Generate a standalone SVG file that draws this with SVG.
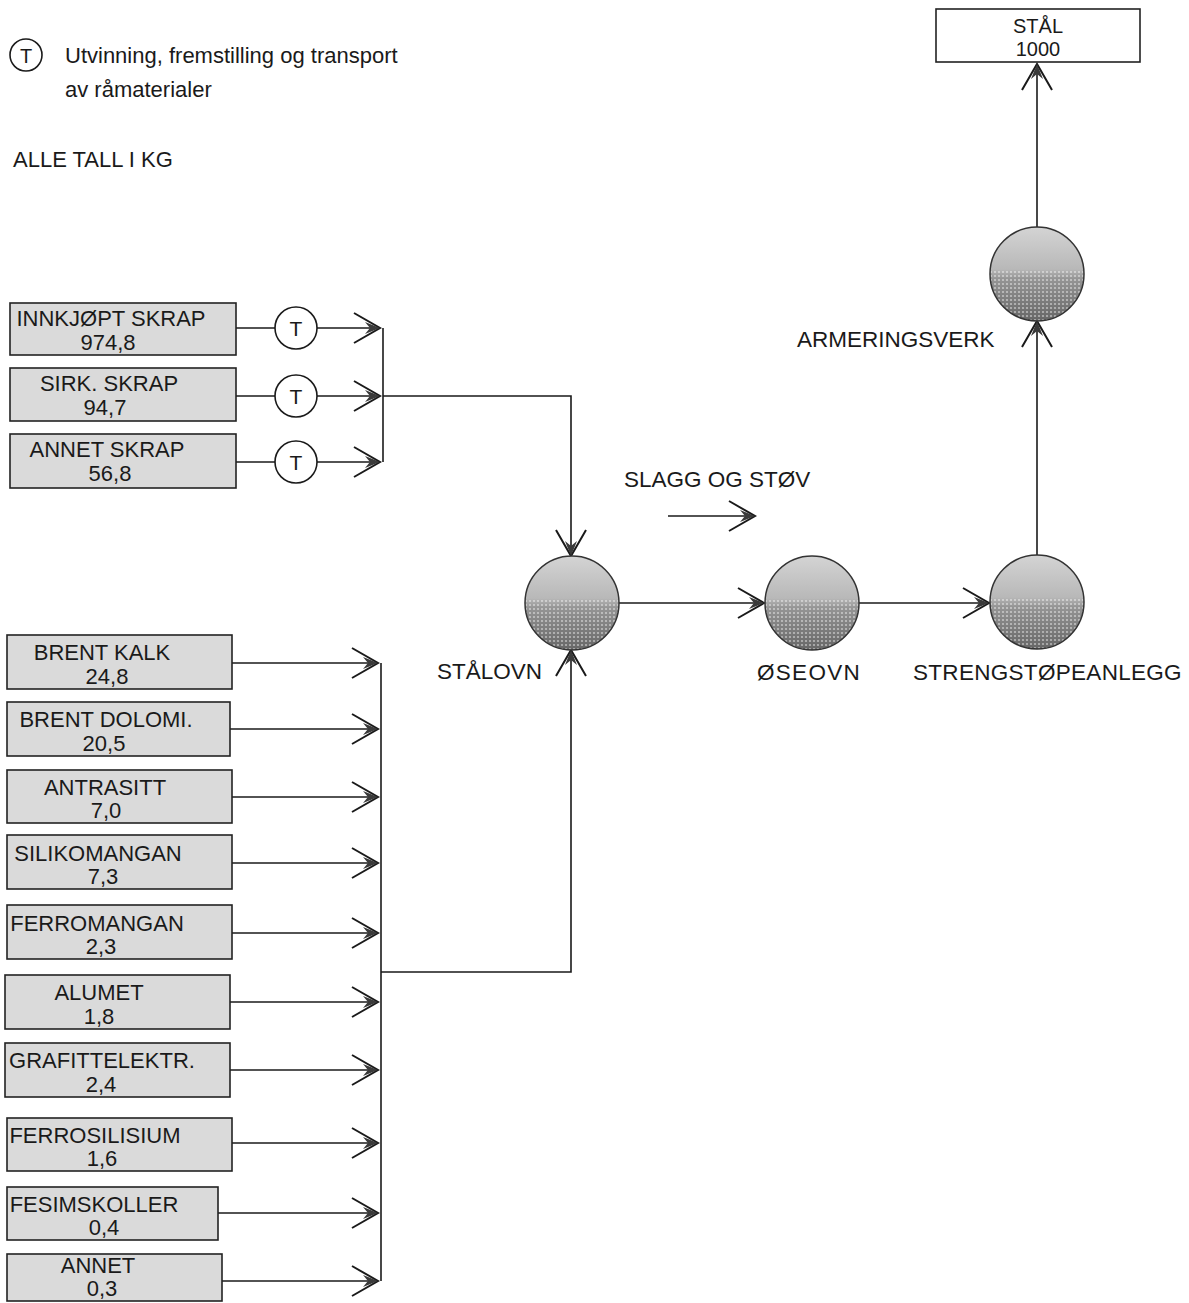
<svg xmlns="http://www.w3.org/2000/svg" xmlns:xlink="http://www.w3.org/1999/xlink" width="1189" height="1303" viewBox="0 0 1189 1303">
<style>
text{font-family:"Liberation Sans",Arial,sans-serif;fill:#1a1a1a}
.bt{font-size:22px;text-anchor:middle}
.lb{font-size:22.5px}
.box{fill:#dadada;stroke:#222;stroke-width:1.6}
.ln{stroke:#1a1a1a;stroke-width:1.6;fill:none}
.tc{fill:#fff;stroke:#1a1a1a;stroke-width:1.6}
.sp{stroke:#333;stroke-width:1.5}
</style>
<defs>
<linearGradient id="sg" x1="0" y1="0" x2="0" y2="1">
<stop offset="0" stop-color="#d4d4d4"/>
<stop offset="0.45" stop-color="#b8b8b8"/>
<stop offset="0.55" stop-color="#959595"/>
<stop offset="1" stop-color="#666666"/>
</linearGradient>
<pattern id="dots" width="4" height="4" patternUnits="userSpaceOnUse">
<circle cx="2" cy="2" r="1.1" fill="#ffffff" opacity="0.5"/>
</pattern>
<clipPath id="sc"><circle cx="0" cy="0" r="47"/></clipPath>
<g id="sphere">
<circle cx="0" cy="0" r="47" fill="url(#sg)"/>
<rect x="-47" y="-4" width="94" height="52" fill="url(#dots)" clip-path="url(#sc)"/>
<circle cx="0" cy="0" r="47" fill="none" class="sp"/>
</g>
<g id="arR">
<path d="M-26,-15 L0,0 L-26,15" fill="none" stroke="#1a1a1a" stroke-width="2"/>
<path d="M0,0 L-15,-6 L-10,0 L-15,6 Z" fill="#3a3a3a"/>
</g>
<g id="arD"><use xlink:href="#arR" transform="rotate(90)"/></g>
<g id="arU"><use xlink:href="#arR" transform="rotate(-90)"/></g>
</defs>
<rect width="1189" height="1303" fill="#ffffff"/>

<g id="legend">
<circle cx="26" cy="55" r="16" class="tc"/>
<text x="26" y="63" font-size="20" text-anchor="middle">T</text>
<text x="65" y="63" font-size="22">Utvinning, fremstilling og transport</text>
<text x="65" y="97" font-size="22">av råmaterialer</text>
<text x="13" y="167" font-size="22">ALLE TALL I KG</text>
</g>

<g id="connectors">
<line x1="236" y1="328" x2="275" y2="328" class="ln"/>
<line x1="317" y1="328" x2="380" y2="328" class="ln"/>
<use xlink:href="#arR" x="380" y="328"/>
<line x1="236" y1="396" x2="275" y2="396" class="ln"/>
<line x1="317" y1="396" x2="380" y2="396" class="ln"/>
<use xlink:href="#arR" x="380" y="396"/>
<line x1="236" y1="462" x2="275" y2="462" class="ln"/>
<line x1="317" y1="462" x2="380" y2="462" class="ln"/>
<use xlink:href="#arR" x="380" y="462"/>
<line x1="383" y1="328" x2="383" y2="462" class="ln"/>
<polyline points="383,396 571,396 571,556" class="ln"/>
<use xlink:href="#arD" x="571" y="556"/>
<line x1="232" y1="663" x2="378" y2="663" class="ln"/><use xlink:href="#arR" x="378" y="663"/>
<line x1="230" y1="729" x2="378" y2="729" class="ln"/><use xlink:href="#arR" x="378" y="729"/>
<line x1="232" y1="797" x2="378" y2="797" class="ln"/><use xlink:href="#arR" x="378" y="797"/>
<line x1="232" y1="863" x2="378" y2="863" class="ln"/><use xlink:href="#arR" x="378" y="863"/>
<line x1="232" y1="933" x2="378" y2="933" class="ln"/><use xlink:href="#arR" x="378" y="933"/>
<line x1="230" y1="1002" x2="378" y2="1002" class="ln"/><use xlink:href="#arR" x="378" y="1002"/>
<line x1="230" y1="1070" x2="378" y2="1070" class="ln"/><use xlink:href="#arR" x="378" y="1070"/>
<line x1="232" y1="1143" x2="378" y2="1143" class="ln"/><use xlink:href="#arR" x="378" y="1143"/>
<line x1="218" y1="1213" x2="378" y2="1213" class="ln"/><use xlink:href="#arR" x="378" y="1213"/>
<line x1="222" y1="1281" x2="378" y2="1281" class="ln"/><use xlink:href="#arR" x="378" y="1281"/>
<line x1="381" y1="663" x2="381" y2="1281" class="ln"/>
<polyline points="381,972 571,972 571,650" class="ln"/>
<use xlink:href="#arU" x="571" y="650"/>
<line x1="619" y1="603" x2="764" y2="603" class="ln"/><use xlink:href="#arR" x="764" y="603"/>
<line x1="859" y1="603" x2="989" y2="603" class="ln"/><use xlink:href="#arR" x="989" y="603"/>
<line x1="1037" y1="555" x2="1037" y2="321" class="ln"/><use xlink:href="#arU" x="1037" y="321"/>
<line x1="1037" y1="227" x2="1037" y2="64" class="ln"/><use xlink:href="#arU" x="1037" y="64"/>
<line x1="668" y1="516" x2="755" y2="516" class="ln"/><use xlink:href="#arR" x="755" y="516"/>
</g>

<g id="t1"><circle cx="296" cy="328" r="21" class="tc"/><text x="296" y="336" font-size="21" text-anchor="middle">T</text></g>
<g id="t2"><circle cx="296" cy="396" r="21" class="tc"/><text x="296" y="404" font-size="21" text-anchor="middle">T</text></g>
<g id="t3"><circle cx="296" cy="462" r="21" class="tc"/><text x="296" y="470" font-size="21" text-anchor="middle">T</text></g>

<g id="innkjopt"><rect x="10" y="303" width="226" height="52" class="box"/><text class="bt" x="111" y="326">INNKJØPT SKRAP</text><text class="bt" x="108" y="350">974,8</text></g>
<g id="sirk"><rect x="10" y="368" width="226" height="53" class="box"/><text class="bt" x="109" y="391">SIRK. SKRAP</text><text class="bt" x="105" y="415">94,7</text></g>
<g id="annetskrap"><rect x="10" y="434" width="226" height="54" class="box"/><text class="bt" x="107" y="457">ANNET SKRAP</text><text class="bt" x="110" y="481">56,8</text></g>

<g id="kalk"><rect x="7" y="635" width="225" height="54" class="box"/><text class="bt" x="102" y="660">BRENT KALK</text><text class="bt" x="107" y="684">24,8</text></g>
<g id="dolomi"><rect x="7" y="702" width="223" height="54" class="box"/><text class="bt" x="106" y="727">BRENT DOLOMI.</text><text class="bt" x="104" y="751">20,5</text></g>
<g id="antrasitt"><rect x="7" y="770" width="225" height="53" class="box"/><text class="bt" x="105" y="795">ANTRASITT</text><text class="bt" x="106" y="818">7,0</text></g>
<g id="silikomangan"><rect x="7" y="835" width="225" height="54" class="box"/><text class="bt" x="98" y="861">SILIKOMANGAN</text><text class="bt" x="103" y="884">7,3</text></g>
<g id="ferromangan"><rect x="7" y="905" width="225" height="54" class="box"/><text class="bt" x="97" y="931">FERROMANGAN</text><text class="bt" x="101" y="954">2,3</text></g>
<g id="alumet"><rect x="5" y="975" width="225" height="54" class="box"/><text class="bt" x="99" y="1000">ALUMET</text><text class="bt" x="99" y="1024">1,8</text></g>
<g id="grafitt"><rect x="5" y="1043" width="225" height="54" class="box"/><text class="bt" x="102" y="1068">GRAFITTELEKTR.</text><text class="bt" x="101" y="1092">2,4</text></g>
<g id="ferrosilisium"><rect x="7" y="1118" width="225" height="53" class="box"/><text class="bt" x="95" y="1143">FERROSILISIUM</text><text class="bt" x="102" y="1166">1,6</text></g>
<g id="fesim"><rect x="7" y="1187" width="211" height="53" class="box"/><text class="bt" x="94" y="1212">FESIMSKOLLER</text><text class="bt" x="104" y="1235">0,4</text></g>
<g id="annet"><rect x="7" y="1254" width="215" height="47" class="box"/><text class="bt" x="98" y="1273" font-size="19">ANNET</text><text class="bt" x="102" y="1296" font-size="19">0,3</text></g>

<g id="stalovn"><use xlink:href="#sphere" transform="translate(572,603)"/><text class="lb" x="437" y="679">STÅLOVN</text></g>
<g id="oseovn"><use xlink:href="#sphere" transform="translate(812,603)"/><text class="lb" x="757" y="680" letter-spacing="1.3">ØSEOVN</text></g>
<g id="streng"><use xlink:href="#sphere" transform="translate(1037,602)"/><text class="lb" x="913" y="680" letter-spacing="0.3">STRENGSTØPEANLEGG</text></g>
<g id="armering"><use xlink:href="#sphere" transform="translate(1037,274)"/><text class="lb" x="797" y="347">ARMERINGSVERK</text></g>
<g id="stal"><rect x="936" y="9" width="204" height="53" fill="#fff" stroke="#222" stroke-width="1.6"/><text x="1038" y="33" font-size="20" text-anchor="middle">STÅL</text><text x="1038" y="56" font-size="20" text-anchor="middle">1000</text></g>
<g id="slagg"><text class="lb" x="624" y="487">SLAGG OG STØV</text></g>
</svg>
